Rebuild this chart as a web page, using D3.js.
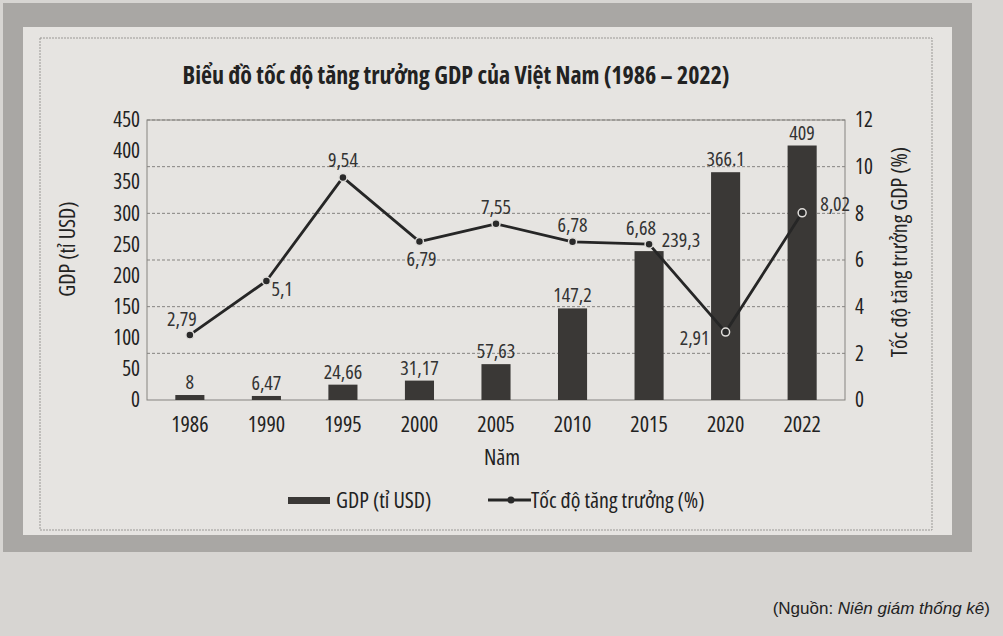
<!DOCTYPE html>
<html>
<head>
<meta charset="utf-8">
<script src="https://cdn.jsdelivr.net/npm/d3@7"></script>
<style>
  body { margin: 0; background: #d7d5d2; }
  svg text { font-family: "Open Sans", "Liberation Sans Narrow", sans-serif; font-stretch: 75%; fill: #222; }
</style>
</head>
<body>
<div id="chart"></div>
<script>
// data
const years = ["1986", "1990", "1995", "2000", "2005", "2010", "2015", "2020", "2022"];
const gdp = [8, 6.47, 24.66, 31.17, 57.63, 147.2, 239.3, 366.1, 409];
const gdpLabels = ["8", "6,47", "24,66", "31,17", "57,63", "147,2", "239,3", "366.1", "409"];
const growth = [2.79, 5.1, 9.54, 6.79, 7.55, 6.78, 6.68, 2.91, 8.02];
const growthLabels = ["2,79", "5,1", "9,54", "6,79", "7,55", "6,78", "6,68", "2,91", "8,02"];
const leftTicks = [0, 50, 100, 150, 200, 250, 300, 350, 400, 450];
const rightTicks = [0, 2, 4, 6, 8, 10, 12];

// where each growth label sits relative to its point
const growthPlace = ["topleft", "right", "top", "below", "top", "top", "topleft", "left", "farright"];

const width = 1003, height = 636;
const margin = {top: 120, right: 158, bottom: 236, left: 147};
const plotW = width - margin.left - margin.right;
const plotH = height - margin.top - margin.bottom;

const svg = d3.select("#chart")
  .append("svg")
    .attr("width", width)
    .attr("height", height);

// page frame
svg.append("rect")
  .attr("x", 3).attr("y", 3).attr("width", 969).attr("height", 549)
  .attr("fill", "#a9a7a4");
svg.append("rect")
  .attr("x", 23).attr("y", 27).attr("width", 929).attr("height", 508)
  .attr("fill", "#e6e4e1");
svg.append("rect")
  .attr("x", 40).attr("y", 38).attr("width", 892).attr("height", 492)
  .attr("fill", "none")
  .attr("stroke", "#9a9895")
  .attr("stroke-dasharray", "2,1");

const g = svg.append("g")
  .attr("transform", `translate(${margin.left},${margin.top})`);

// scales
const x = d3.scaleBand()
  .domain(years)
  .range([0, plotW])
  .paddingInner(0.62)
  .paddingOuter(0.37);

const yLeft = d3.scaleLinear()
  .domain([0, 450])
  .range([plotH, 0]);

const yRight = d3.scaleLinear()
  .domain([0, 12])
  .range([plotH, 0]);

// grid lines follow the right axis
g.append("g")
  .selectAll("line")
  .data(rightTicks.slice(1))
  .join("line")
    .attr("x1", 0)
    .attr("x2", plotW)
    .attr("y1", d => yRight(d))
    .attr("y2", d => yRight(d))
    .attr("stroke", "#858380")
    .attr("stroke-dasharray", "3,2");

// plot frame
g.append("rect")
  .attr("width", plotW)
  .attr("height", plotH)
  .attr("fill", "none")
  .attr("stroke", "#858380");

// axes
const leftAxis = g.append("g")
  .call(d3.axisLeft(yLeft).tickValues(leftTicks).tickSize(0).tickPadding(7));
leftAxis.select(".domain").remove();
leftAxis.selectAll("text").style("font-size", "21px");

const rightAxis = g.append("g")
  .attr("transform", `translate(${plotW},0)`)
  .call(d3.axisRight(yRight).tickValues(rightTicks).tickSize(0).tickPadding(10));
rightAxis.select(".domain").remove();
rightAxis.selectAll("text").style("font-size", "21px");

const bottomAxis = g.append("g")
  .attr("transform", `translate(0,${plotH})`)
  .call(d3.axisBottom(x).tickSize(0).tickPadding(16));
bottomAxis.select(".domain").remove();
bottomAxis.selectAll("text").style("font-size", "22px");

// d3 axes set their own font-family on the group; drop it so the css applies
[leftAxis, rightAxis, bottomAxis].forEach(a => a.attr("font-family", null).attr("font-size", null));

// bars
g.selectAll(".bar")
  .data(years)
  .join("rect")
    .attr("class", "bar")
    .attr("x", d => x(d))
    .attr("width", x.bandwidth())
    .attr("y", (d, i) => yLeft(gdp[i]))
    .attr("height", (d, i) => plotH - yLeft(gdp[i]))
    .attr("fill", "#3a3836");

g.selectAll(".barLabel")
  .data(years)
  .join("text")
    .attr("class", "barLabel")
    .attr("x", (d, i) => x(d) + x.bandwidth() / 2 + (i === 6 ? 32 : 0))
    .attr("y", (d, i) => yLeft(gdp[i]) - (i === 6 ? 4 : 6))
    .attr("text-anchor", "middle")
    .style("font-size", "20px")
    .style("fill", "#333")
    .text((d, i) => gdpLabels[i]);

// growth line
const cx = d => x(d) + x.bandwidth() / 2;
const line = d3.line()
  .x(d => cx(d))
  .y((d, i) => yRight(growth[i]));

g.append("path")
  .datum(years)
  .attr("d", line)
  .attr("fill", "none")
  .attr("stroke", "#262626")
  .attr("stroke-width", 2.8)
  .attr("stroke-linejoin", "round");

g.selectAll(".dot")
  .data(years)
  .join("circle")
    .attr("class", "dot")
    .attr("cx", d => cx(d))
    .attr("cy", (d, i) => yRight(growth[i]))
    .attr("r", 4)
    .attr("fill", "#2a2a2a")
    .attr("stroke", "#e0dedb")
    .attr("stroke-width", 1.5);

const place = {
  top: {dx: 0, dy: -10, anchor: "middle"},
  topleft: {dx: -8, dy: -9, anchor: "middle"},
  below: {dx: 2, dy: 24, anchor: "middle"},
  right: {dx: 5, dy: 15, anchor: "start"},
  farright: {dx: 18, dy: -2, anchor: "start"},
  left: {dx: -16, dy: 13, anchor: "end"}
};

g.selectAll(".growthLabel")
  .data(years)
  .join("text")
    .attr("class", "growthLabel")
    .attr("x", (d, i) => cx(d) + place[growthPlace[i]].dx)
    .attr("y", (d, i) => yRight(growth[i]) + place[growthPlace[i]].dy)
    .attr("text-anchor", (d, i) => place[growthPlace[i]].anchor)
    .style("font-size", "20px")
    .style("fill", "#333")
    .text((d, i) => growthLabels[i]);

// titles
svg.append("text")
  .attr("x", 456)
  .attr("y", 84)
  .attr("text-anchor", "middle")
  .style("font-size", "24px")
  .style("font-weight", "bold")
  .text("Biểu đồ tốc độ tăng trưởng GDP của Việt Nam (1986 – 2022)");

svg.append("text")
  .attr("transform", `translate(75,249)rotate(-90)`)
  .attr("text-anchor", "middle")
  .style("font-size", "22px")
  .text("GDP (tỉ USD)");

svg.append("text")
  .attr("transform", `translate(907,252)rotate(-90)`)
  .attr("text-anchor", "middle")
  .style("font-size", "22px")
  .text("Tốc độ tăng trưởng GDP (%)");

svg.append("text")
  .attr("x", 502)
  .attr("y", 465)
  .attr("text-anchor", "middle")
  .style("font-size", "22px")
  .text("Năm");

// legend
const legend = svg.append("g").attr("transform", "translate(288,500)");
legend.append("rect")
  .attr("x", 0).attr("y", -3).attr("width", 42).attr("height", 7)
  .attr("fill", "#3a3836");
legend.append("text")
  .attr("x", 48).attr("y", 8)
  .style("font-size", "22px")
  .text("GDP (tỉ USD)");
legend.append("line")
  .attr("x1", 200).attr("x2", 243).attr("y1", 0).attr("y2", 0)
  .attr("stroke", "#262626").attr("stroke-width", 2.8);
legend.append("circle")
  .attr("cx", 223).attr("cy", 0).attr("r", 3.5)
  .attr("fill", "#2a2a2a");
legend.append("text")
  .attr("x", 243).attr("y", 8)
  .style("font-size", "22px")
  .text("Tốc độ tăng trưởng (%)");

// source note
const src = svg.append("text")
  .attr("x", 990)
  .attr("y", 614)
  .attr("text-anchor", "end")
  .style("font-family", "'Liberation Sans', Arial, sans-serif")
  .style("font-stretch", "normal")
  .style("font-size", "17px");
src.append("tspan").text("(Nguồn: ");
src.append("tspan").style("font-style", "italic").text("Niên giám thống kê");
src.append("tspan").text(")");
</script>
</body>
</html>
